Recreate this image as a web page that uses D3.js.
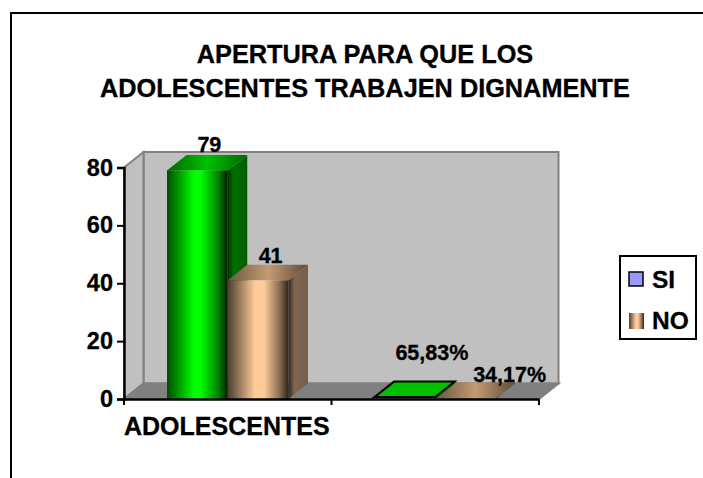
<!DOCTYPE html>
<meta charset="utf-8">
<head>
<title>Apertura para que los adolescentes trabajen dignamente</title>
<style>
  body { margin: 0; background: white; }
  svg { display: block; }
  text { font-family: "Liberation Sans", Arial, sans-serif; font-weight: bold; fill: black; stroke: black; stroke-width: 0.3px; }
</style>
</head>
<body>
<div id="chart"></div>
<script src="https://d3js.org/d3.v7.min.js"></script>
<script>

var categories = ["ADOLESCENTES", "PORCENTAJE"];
var categoryLabels = ["ADOLESCENTES", ""];
var seriesNames = ["SI", "NO"];
var siValues = [79, 0.6583];
var noValues = [41, 0.3417];
var siLabels = ["79", "65,83%"];
var noLabels = ["41", "34,17%"];
var yTicks = [0, 20, 40, 60, 80];
var titleLines = ["APERTURA PARA QUE LOS", "ADOLESCENTES TRABAJEN DIGNAMENTE"];

var width = 703, height = 478;
var depthX = 19.5, depthY = 15.5;

var svg = d3.select("#chart").append("svg")
    .attr("width", width)
    .attr("height", height);

var x = d3.scaleBand().domain(categories).range([124, 539]);
var xSeries = d3.scaleBand().domain(seriesNames).range([43, x.bandwidth() - 43]);
var y = d3.scaleLinear().domain([0, 80]).range([399, 167.5]);

// horizontal "cylinder" shading, dark at both edges
function gradient(id, stops) {
  var g = defs.append("linearGradient").attr("id", id)
    .attr("x1", 0).attr("x2", 1).attr("y1", 0).attr("y2", 0);
  stops.forEach(function(s) {
    g.append("stop").attr("offset", s[0]).attr("stop-color", s[1]);
  });
}
var defs = svg.append("defs");
gradient("greenFront", [[0, "#004d00"], [0.45, "#00ff00"], [0.55, "#00ff00"], [0.85, "#008000"], [1, "#001a00"]]);
gradient("greenTop", [[0, "#006600"], [0.5, "#00c000"], [1, "#006600"]]);
gradient("greenSide", [[0, "#003300"], [0.3, "#007000"], [1, "#005c00"]]);
gradient("tanFront", [[0, "#4d3d2e"], [0.45, "#ffcc99"], [0.6, "#ffcc99"], [0.85, "#8a6e50"], [1, "#2e2419"]]);
gradient("tanTop", [[0, "#6b5540"], [0.5, "#c49a73"], [1, "#5f4b38"]]);
gradient("tanSide", [[0, "#33281e"], [0.3, "#7f6650"], [1, "#75604a"]]);

// outer frame, only top and left show in the picture
svg.append("path")
    .attr("d", d3.line()([[11, height], [11, 13], [width, 13]]))
    .attr("fill", "none").attr("stroke", "black").attr("stroke-width", 2);

svg.selectAll("text.title")
  .data(titleLines)
  .enter().append("text")
    .attr("class", "title")
    .attr("x", 365)
    .attr("y", function(d, i) { return 63 + i * 34; })
    .attr("text-anchor", "middle")
    .style("font-size", "25.3px")
    .text(function(d) { return d; });

// walls
var x0 = x.range()[0], x1 = x.range()[1], y0 = y(0), yTop = y(80);
function poly(pts, fill, stroke) {
  return svg.append("path")
    .attr("d", d3.line()(pts) + "Z")
    .attr("fill", fill)
    .attr("stroke", stroke || "none")
    .attr("stroke-width", stroke ? 2 : 0);
}
poly([[x0 + depthX, yTop - depthY], [x1 + depthX, yTop - depthY], [x1 + depthX, y0 - depthY], [x0 + depthX, y0 - depthY]], "#c0c0c0", "#808080");
poly([[x0, yTop], [x0 + depthX, yTop - depthY], [x0 + depthX, y0 - depthY], [x0, y0]], "#c0c0c0", "#808080");
poly([[x0, y0], [x0 + depthX, y0 - depthY], [x1 + depthX, y0 - depthY], [x1, y0]], "#808080", "#808080");

function bar(cat, name, value, color, flatOutline) {
  var bx = x(cat) + xSeries(name), bw = xSeries.bandwidth();
  var yv = y(value);
  poly([[bx + bw, y0], [bx + bw + depthX, y0 - depthY], [bx + bw + depthX, yv - depthY], [bx + bw, yv]], "url(#" + color + "Side)");
  poly([[bx, yv], [bx + depthX, yv - depthY], [bx + bw + depthX, yv - depthY], [bx + bw, yv]],
    flatOutline ? "#00c000" : "url(#" + color + "Top)", flatOutline ? "black" : null);
  if (!flatOutline && value > 5) {
    svg.append("rect")
      .attr("x", bx).attr("y", yv)
      .attr("width", bw).attr("height", y0 - yv)
      .attr("fill", "url(#" + color + "Front)");
  }
}
// tall group: NO over the green side; flat group: the outlined green sits on top
bar(categories[0], "SI", siValues[0], "green", false);
bar(categories[0], "NO", noValues[0], "tan", false);
bar(categories[1], "NO", noValues[1], "tan", false);
bar(categories[1], "SI", siValues[1], "green", true);

// axes
var yAxis = svg.append("g")
    .attr("transform", "translate(" + x0 + ",0)")
    .call(d3.axisLeft(y).tickValues(yTicks).tickSize(7).tickPadding(4));
var xAxis = svg.append("g")
    .attr("transform", "translate(0," + y0 + ")")
    .call(d3.axisBottom(x).tickSize(0).tickFormat(function() { return ""; }));
[x0, x0 + x.bandwidth(), x1].forEach(function(t) {
  xAxis.append("line").attr("x1", t).attr("x2", t).attr("y1", 0).attr("y2", 6).attr("stroke", "black").attr("stroke-width", 2);
});
[yAxis, xAxis].forEach(function(a) {
  a.selectAll("path").attr("stroke", "black").attr("stroke-width", 2.5);
  a.selectAll(".tick line").attr("stroke", "black").attr("stroke-width", 2);
});
yAxis.selectAll("text").style("font-size", "23.5px").style("font-family", "Liberation Sans").style("font-weight", "bold").attr("fill", "black");

svg.append("text")
    .attr("x", x0)
    .attr("y", 435)
    .style("font-size", "25px")
    .text(categoryLabels[0]);

// value labels were placed by hand in the original, hence the offsets
var labelOffsets = [[[12, -18], [12.5, -17]], [[27, -37], [44, -16]]];
categories.forEach(function(c, i) {
  [[siLabels, siValues, "SI"], [noLabels, noValues, "NO"]].forEach(function(s, j) {
    svg.append("text")
      .attr("x", x(c) + xSeries(s[2]) + xSeries.bandwidth() / 2 + labelOffsets[i][j][0])
      .attr("y", y(s[1][i]) + labelOffsets[i][j][1])
      .attr("text-anchor", "middle")
      .style("font-size", "21.5px")
      .text(s[0][i]);
  });
});

// legend
var legend = svg.append("g");
legend.append("rect")
    .attr("x", 620).attr("y", 256)
    .attr("width", 76).attr("height", 83)
    .attr("fill", "white").attr("stroke", "black").attr("stroke-width", 2);
legend.append("rect")
    .attr("x", 629).attr("y", 272)
    .attr("width", 14).attr("height", 14)
    .attr("fill", "#9999ff").attr("stroke", "black").attr("stroke-width", 1.5);
legend.append("rect")
    .attr("x", 629).attr("y", 313)
    .attr("width", 15).attr("height", 16)
    .attr("fill", "url(#tanFront)");
legend.selectAll("text.leg")
  .data(seriesNames)
  .enter().append("text")
    .attr("class", "leg")
    .attr("x", 652)
    .attr("y", function(d, i) { return 288 + i * 41; })
    .style("font-size", "24.5px")
    .text(function(d) { return d; });

</script>
</body>
